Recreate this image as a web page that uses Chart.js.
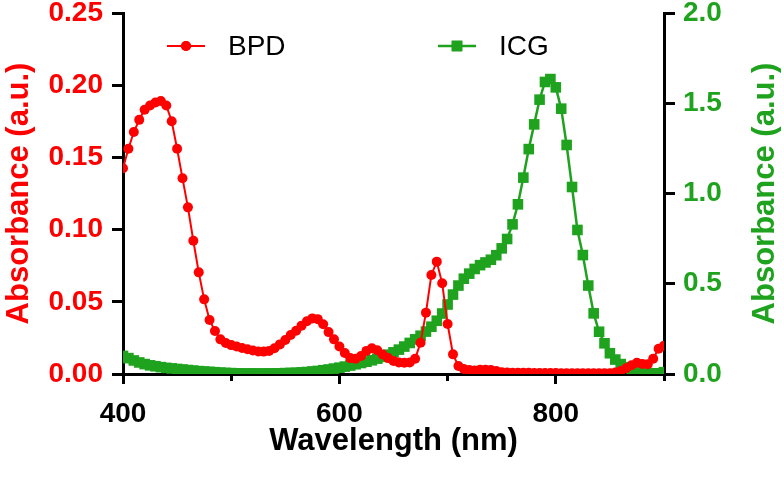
<!DOCTYPE html>
<html>
<head>
<meta charset="utf-8">
<script src="https://cdn.jsdelivr.net/npm/chart.js@4.4.1/dist/chart.umd.min.js"></script>
<style>
  html, body { margin: 0; padding: 0; background: #fff; }
  #wrap { width: 784px; height: 480px; }
</style>
</head>
<body>
<div id="wrap"><canvas id="chart" width="784" height="480"></canvas></div>
<script>
// Absorbance spectra, BPD (left axis) and ICG (right axis)

const WAVELENGTH = [
  400, 405, 410, 415, 420, 425, 430, 435, 440, 445,
  450, 455, 460, 465, 470, 475, 480, 485, 490, 495,
  500, 505, 510, 515, 520, 525, 530, 535, 540, 545,
  550, 555, 560, 565, 570, 575, 580, 585, 590, 595,
  600, 605, 610, 615, 620, 625, 630, 635, 640, 645,
  650, 655, 660, 665, 670, 675, 680, 685, 690, 695,
  700, 705, 710, 715, 720, 725, 730, 735, 740, 745,
  750, 755, 760, 765, 770, 775, 780, 785, 790, 795,
  800, 805, 810, 815, 820, 825, 830, 835, 840, 845,
  850, 855, 860, 865, 870, 875, 880, 885, 890, 895,
  900
];

const BPD = [
  0.1425, 0.156, 0.1676, 0.176, 0.183, 0.186, 0.188, 0.189, 0.186, 0.175,
  0.156, 0.1355, 0.1154, 0.0923, 0.0704, 0.0517, 0.0374, 0.0298, 0.024, 0.0215,
  0.020, 0.019, 0.018, 0.0172, 0.0163, 0.0156, 0.0155, 0.016, 0.0178, 0.0205,
  0.0235, 0.027, 0.030, 0.0335, 0.0365, 0.0385, 0.038, 0.0345, 0.029, 0.024,
  0.019, 0.0145, 0.011, 0.0105, 0.0125, 0.016, 0.0178, 0.0165, 0.0135, 0.011,
  0.009, 0.008, 0.0078, 0.008, 0.0105, 0.0217, 0.0425, 0.0686, 0.0778, 0.0628,
  0.0346, 0.0136, 0.0055, 0.0035, 0.0028, 0.0025, 0.003, 0.003, 0.0028, 0.002,
  0.0012, 0.001, 0.0008, 0.0008, 0.0008, 0.0008, 0.0007, 0.0007, 0.0007, 0.0007,
  0.0007, 0.0006, 0.0006, 0.0006, 0.0006, 0.0006, 0.0006, 0.0006, 0.0006, 0.0006,
  0.0006, 0.001, 0.002, 0.004, 0.006, 0.0078, 0.007, 0.0068, 0.0105, 0.0175,
  0.0195
];

const ICG = [
  0.10, 0.088, 0.075, 0.064, 0.055, 0.048, 0.043, 0.038, 0.034, 0.031,
  0.028, 0.025, 0.022, 0.019, 0.016, 0.014, 0.012, 0.010, 0.008, 0.006,
  0.005, 0.004, 0.003, 0.003, 0.003, 0.003, 0.003, 0.003, 0.004, 0.004,
  0.005, 0.006, 0.007, 0.009, 0.011, 0.014, 0.017, 0.021, 0.025, 0.030,
  0.035, 0.041, 0.047, 0.054, 0.061, 0.068, 0.076, 0.085, 0.095, 0.107,
  0.12, 0.135, 0.152, 0.172, 0.192, 0.212, 0.235, 0.262, 0.295, 0.335,
  0.385, 0.44, 0.49, 0.528, 0.556, 0.582, 0.603, 0.618, 0.633, 0.658,
  0.696, 0.748, 0.829, 0.94, 1.088, 1.246, 1.383, 1.52, 1.618, 1.634,
  1.588, 1.47, 1.269, 1.036, 0.798, 0.659, 0.49, 0.336, 0.234, 0.17,
  0.115, 0.08, 0.055, 0.038, 0.025, 0.015, 0.009, 0.005, 0.004, 0.004,
  0.01
];

const X_LABELS = [400, 600, 800];   // labelled (long) ticks, others are minor
const LEFT_TITLE = "Absorbance (a.u.)";
const RIGHT_TITLE = "Absorbance (a.u.)";
const X_TITLE = "Wavelength (nm)";

const RED = "#ff0000";
const GREEN = "#1fa31f";
const FONT = "'Liberation Sans', Arial, Helvetica, sans-serif";

function toPoints(ys) {
  return WAVELENGTH.map((x, i) => ({ x, y: ys[i] }));
}

/* ---------------- legend inside plot (line + marker + name) ---------------- */
const insideLegend = {
  id: "insideLegend",
  afterDraw(chart) {
    const { ctx, chartArea } = chart;
    const slots = [44, 315]; // offset of each item from plot left
    ctx.save();
    chart.data.datasets.forEach((ds, i) => {
      const x0 = chartArea.left + slots[i];
      const y = chartArea.top + 33;
      ctx.strokeStyle = ds.borderColor;
      ctx.lineWidth = ds.borderWidth;
      ctx.beginPath();
      ctx.moveTo(x0, y);
      ctx.lineTo(x0 + 38, y);
      ctx.stroke();
      ctx.fillStyle = ds.pointBackgroundColor;
      Chart.helpers.drawPoint(ctx, {
        pointStyle: ds.pointStyle, radius: ds.pointRadius, borderWidth: 0, rotation: 0
      }, x0 + 19, y);
      ctx.fill();
      ctx.fillStyle = "#000";
      ctx.font = `28px ${FONT}`;
      ctx.textBaseline = "middle";
      ctx.textAlign = "left";
      ctx.fillText(ds.label, x0 + 61, y + 1);
    });
    ctx.restore();
  }
};

/* ---------------- right title reading bottom-to-top ---------------- */
const rightTitle = {
  id: "rightTitle",
  afterDraw(chart) {
    const { ctx, chartArea } = chart;
    ctx.save();
    ctx.translate(chart.width - 19, (chartArea.top + chartArea.bottom) / 2);
    ctx.rotate(-Math.PI / 2);
    ctx.fillStyle = GREEN;
    ctx.font = `bold 31px ${FONT}`;
    ctx.textAlign = "center";
    ctx.textBaseline = "middle";
    ctx.fillText(RIGHT_TITLE, 0, 0);
    ctx.restore();
  }
};

function noPad(s) {
  s.paddingTop = 0;
  s.paddingBottom = 0;
  s.paddingLeft = 0;
  s.paddingRight = 0;
}

new Chart(document.getElementById("chart"), {
  type: "line",
  data: {
    datasets: [
      {
        label: "BPD",
        data: toPoints(BPD),
        yAxisID: "y",
        borderColor: RED,
        borderWidth: 2,
        pointStyle: "circle",
        pointRadius: 5,
        pointBackgroundColor: RED,
        pointBorderColor: RED,
        pointBorderWidth: 0,
        tension: 0
      },
      {
        label: "ICG",
        data: toPoints(ICG),
        yAxisID: "y2",
        borderColor: GREEN,
        borderWidth: 2.5,
        pointStyle: "rect",
        pointRadius: 7.5,
        pointBackgroundColor: GREEN,
        pointBorderColor: GREEN,
        pointBorderWidth: 0,
        tension: 0
      }
    ]
  },
  options: {
    responsive: false,
    animation: false,
    layout: { padding: { top: 13, left: 0, right: 0, bottom: 0 } },
    plugins: {
      legend: { display: false },
      tooltip: { enabled: false }
    },
    scales: {
      x: {
        type: "linear",
        position: "bottom",
        min: 400,
        max: 900,
        ticks: {
          stepSize: 100,
          autoSkip: false,
          maxRotation: 0,
          color: "#000",
          padding: 13,
          font: { family: FONT, size: 28, weight: "bold" },
          callback: v => (X_LABELS.includes(v) ? String(v) : "")
        },
        grid: {
          drawOnChartArea: false,
          color: "#000",
          lineWidth: 3,
          tickLength: 10,
          tickBorderDash: c => (c.tick && X_LABELS.includes(c.tick.value) ? [] : [5, 20])
        },
        border: { display: true, color: "#000", width: 3 },
        title: {
          display: true,
          text: X_TITLE,
          color: "#000",
          padding: { top: 0, bottom: 20 },
          font: { family: FONT, size: 31, weight: "bold" }
        },
        afterFit: s => { s.height = 106; noPad(s); }
      },
      y: {
        position: "left",
        min: 0,
        max: 0.25,
        ticks: {
          stepSize: 0.05,
          color: RED,
          padding: 9,
          font: { family: FONT, size: 28, weight: "bold" },
          callback: v => v.toFixed(2)
        },
        grid: { drawOnChartArea: false, color: "#000", lineWidth: 3, tickLength: 11 },
        border: { display: true, color: "#000", width: 3 },
        title: {
          display: true,
          text: LEFT_TITLE,
          color: RED,
          padding: { top: 1, bottom: 0 },
          font: { family: FONT, size: 31, weight: "bold" }
        },
        afterFit: s => { s.width = 123; noPad(s); }
      },
      y2: {
        position: "right",
        min: 0,
        max: 2,
        ticks: {
          stepSize: 0.5,
          color: GREEN,
          padding: 8,
          font: { family: FONT, size: 28, weight: "bold" },
          callback: v => v.toFixed(1)
        },
        grid: { drawOnChartArea: false, color: "#000", lineWidth: 3, tickLength: 11 },
        border: { display: true, color: "#000", width: 3 },
        title: { display: false },
        afterFit: s => { s.width = 120; noPad(s); }
      }
    }
  },
  plugins: [insideLegend, rightTitle]
});
</script>
</body>
</html>
